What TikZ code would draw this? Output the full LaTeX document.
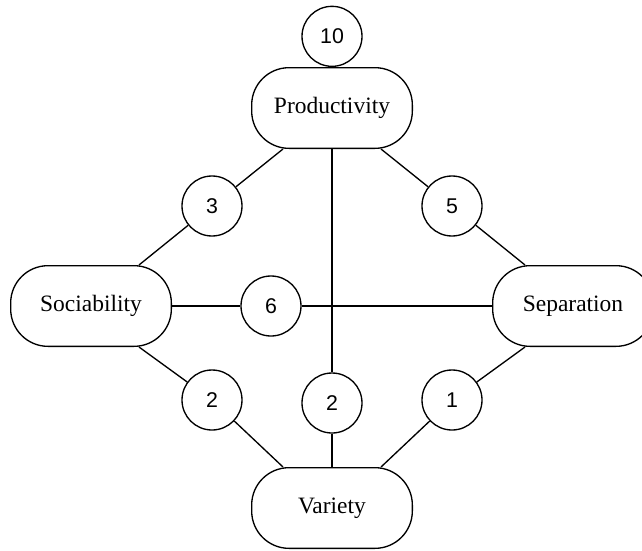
\documentclass[tikz,border=0pt]{standalone}
\usepackage{fontspec}
\setmainfont{Liberation Serif}
\newfontfamily\numfont{Liberation Sans}
\usetikzlibrary{positioning}

\tikzset{
  box/.style={draw,line width=1pt,rounded corners=28pt,minimum width=120.5pt,minimum height=60.5pt,font=\fontsize{17.6}{20}\selectfont},
  num/.style={circle,draw,line width=1pt,fill=white,minimum size=45pt,inner sep=0pt,font=\numfont\fontsize{16}{19}\selectfont}
}

\begin{document}
\begin{tikzpicture}[x=0.75pt,y=-0.75pt,line width=1pt]

\clip (0,0) rectangle (642,550);

\node[box] (prod) at (332,108) {Productivity};
\node[box] (soc) at (91,306) {Sociability};
\node[box] (sep) at (573,306) {Separation};
\node[box] (var) at (332,508) {Variety};

\node[num,above=0pt of prod] (ten) {10};

\node[num] (c3) at (212,206) {3};
\node[num] (c5) at (452,206) {5};
\node[num] (c6) at (271,306) {6};
\node[num] (c2a) at (212,400) {2};
\node[num] (c2b) at (332,403) {2};
\node[num] (c1) at (452,400) {1};

\draw (c3) -- ([xshift=-36.75pt]prod.south);
\draw (c3) -- ([xshift=36pt]soc.north);
\draw (c5) -- ([xshift=36.75pt]prod.south);
\draw (c5) -- ([xshift=-36pt]sep.north);
\draw (c2a) -- ([xshift=36pt]soc.south);
\draw (c2a) -- ([xshift=-36.75pt]var.north);
\draw (c1) -- ([xshift=-36pt]sep.south);
\draw (c1) -- ([xshift=36.75pt]var.north);
\draw (prod.south) -- (c2b) -- (var.north);
\draw (soc.east) -- (c6) -- (sep.west);

\end{tikzpicture}
\end{document}
